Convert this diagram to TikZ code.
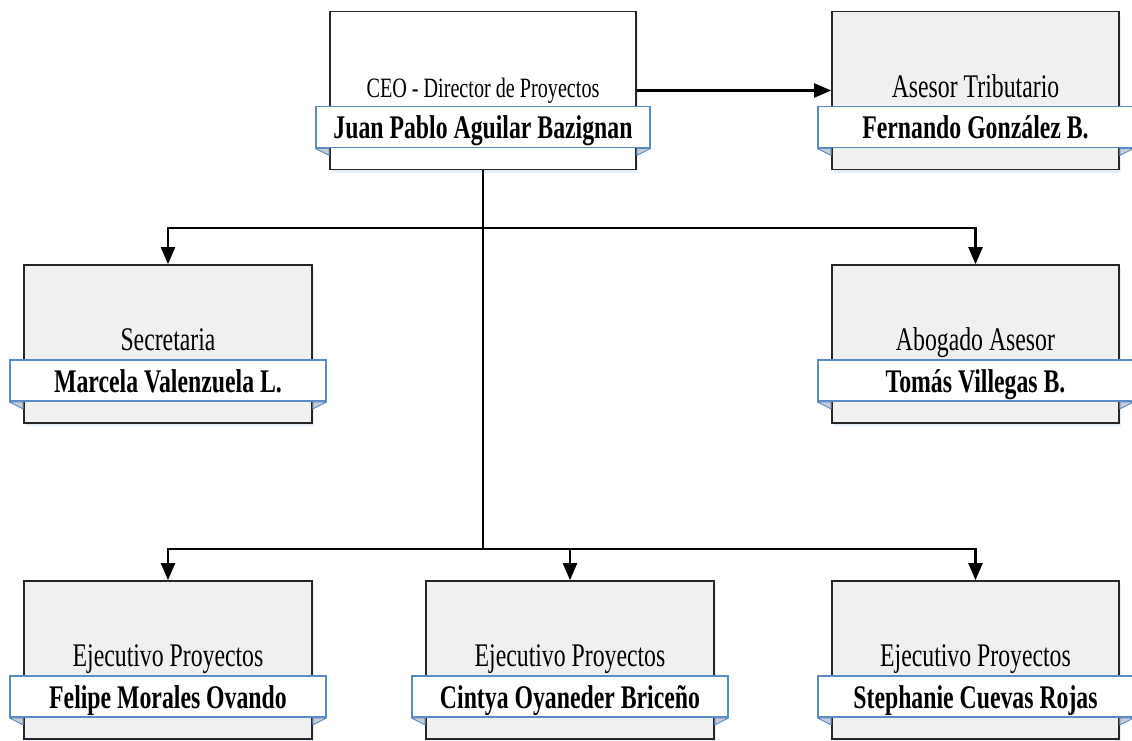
\documentclass[tikz,border=0pt]{standalone}
\usepackage{fontspec}
\setmainfont{Liberation Serif}[FakeStretch=0.72]
\usetikzlibrary{arrows.meta,calc,shadows}
\definecolor{boxgray}{HTML}{F0F0F0}
\definecolor{ribblue}{HTML}{5B8BC5}
\definecolor{foldgray}{HTML}{C9CDD3}
\tikzset{
  orgbox/.style={draw=black!85, line width=1.7pt, fill=boxgray, minimum height=158pt, inner sep=0pt,
    drop shadow={shadow xshift=1.5pt, shadow yshift=-3pt, fill=ribblue!45, opacity=0.35}},
  titletext/.style={inner sep=0pt, anchor=base, font=\fontsize{33}{36}\selectfont},
  ribbon/.style={draw=ribblue, line width=1.5pt, fill=white, minimum height=41pt, inner sep=0pt},
  nametext/.style={inner sep=0pt, anchor=base, font=\fontsize{33}{36}\selectfont\bfseries},
  foldtri/.style={fill=foldgray, draw=ribblue, line width=0.9pt, line join=round},
  conn/.style={line width=2.2pt, draw=black},
  arr/.style={conn, -{Triangle[length=17pt,width=14pt]}},
}
\newcommand\orgunit[7]{%
  \node[orgbox, fill=#4, minimum width=#3] (#1) at #2 {};
  \node[titletext, #7] (#1t) at ($(#1.north)+(0,86.5)$) {#5};
  \coordinate (#1rc) at ($(#1.north)+(0,116.5)$);
  \node[ribbon, minimum width=#3+28pt] (#1r) at (#1rc) {};
  \node[nametext] (#1n) at ($(#1.north)+(0,128)$) {#6};
  \draw[foldtri] (#1r.south west) -- (#1.west |- #1r.south) -- ++(0,7) -- cycle;
  \draw[foldtri] (#1r.south east) -- (#1.east |- #1r.south) -- ++(0,7) -- cycle;
}
\begin{document}
\begin{tikzpicture}[x=1pt, y=-1pt]
\useasboundingbox (0,0) rectangle (1132,740);
\orgunit{ceo}{(483,90.5)}{306pt}{white}{CEO - Director de Proyectos}{Juan Pablo Aguilar Bazignan}{font=\fontsize{28}{30}\selectfont}
\orgunit{tax}{(975.5,90.5)}{287pt}{boxgray}{Asesor Tributario}{Fernando González B.}{}
\orgunit{sec}{(168,344)}{288pt}{boxgray}{Secretaria}{Marcela Valenzuela L.}{}
\orgunit{law}{(975.5,344)}{287pt}{boxgray}{Abogado Asesor}{Tomás Villegas B.}{}
\orgunit{ea}{(168,660)}{288pt}{boxgray}{Ejecutivo Proyectos}{Felipe Morales Ovando}{}
\orgunit{eb}{(570,660)}{288pt}{boxgray}{Ejecutivo Proyectos}{Cintya Oyaneder Briceño}{}
\orgunit{ec}{(975.5,660)}{287pt}{boxgray}{Ejecutivo Proyectos}{Stephanie Cuevas Rojas}{}
\coordinate (j1) at (483,228);
\coordinate (j2) at (483,549);
\draw[arr] (ceo.east) -- (tax.west);
\draw[conn] (ceo.south) -- (j2);
\draw[arr] (j1) -| (sec.north);
\draw[arr] (j1) -| (law.north);
\draw[arr] (j2) -| (ea.north);
\draw[arr] (j2) -| (eb.north);
\draw[arr] (j2) -| (ec.north);
\end{tikzpicture}
\end{document}
